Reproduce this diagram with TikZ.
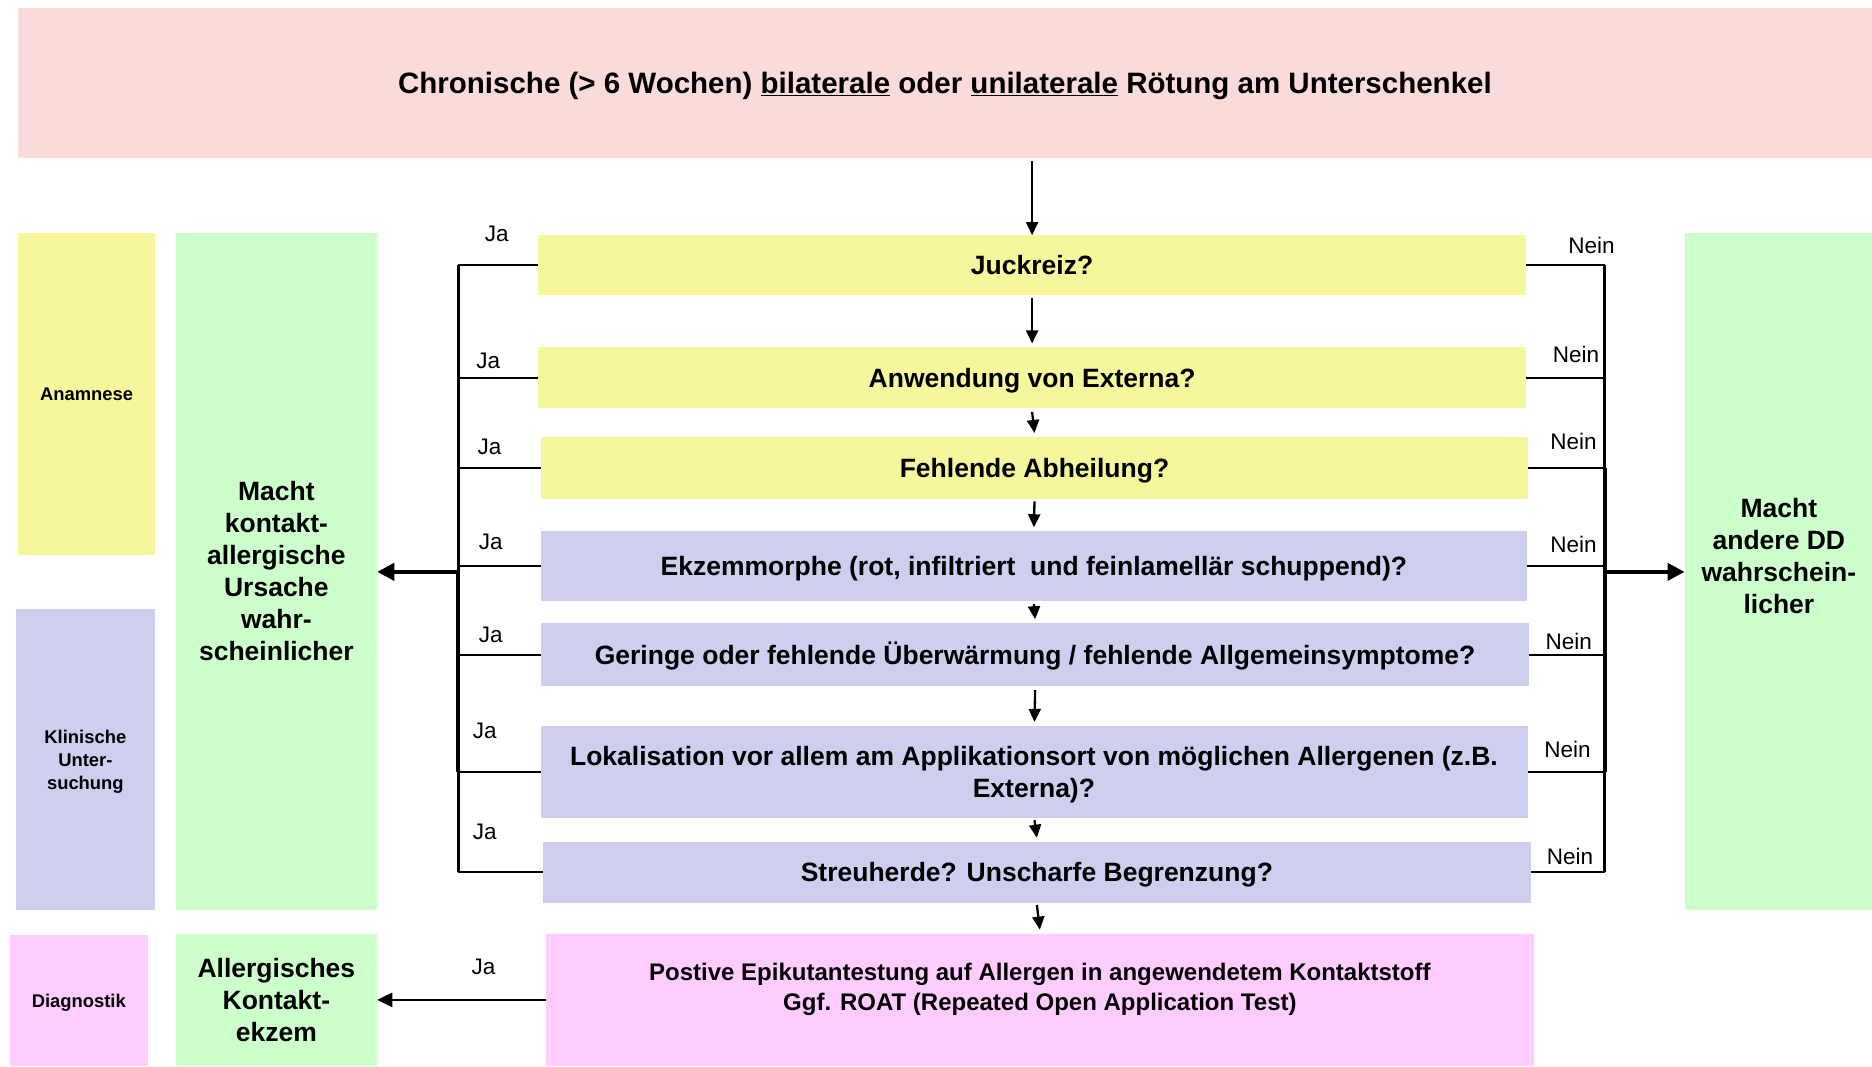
\documentclass[tikz,border=0pt]{standalone}
\usepackage{fontspec}
\setmainfont{Liberation Sans}
\usetikzlibrary{arrows.meta}
\definecolor{toppink}{HTML}{F9DBDA}
\definecolor{ylw}{HTML}{F6F69D}
\definecolor{lav}{HTML}{CECEEE}
\definecolor{grn}{HTML}{CCFFCC}
\definecolor{pnk}{HTML}{FFCCFF}
\newcommand\mkbox[7]{\node[#6, minimum width={(#4-#2)*1.1939pt}, minimum height={(#5-#3)*1.1939pt}] (#1) at ({(#2+#4)/2},{(#3+#5)/2}) {#7};}
\begin{document}
\begin{tikzpicture}[x=1.1939pt,y=-1.1939pt,
  bx/.style={inner sep=0pt, outer sep=0pt, align=center, font=\bfseries\fontsize{26.5}{32}\selectfont},
  one/.style={text height=19.3pt, text depth=0pt},
  smallbx/.style={inner sep=0pt, outer sep=0pt, align=center, font=\bfseries\fontsize{18.4}{22.7}\selectfont},
  lab/.style={inner sep=0pt, font=\fontsize{22.5}{27}\selectfont},
  conn/.style={line width=2.5pt},
  thickconn/.style={line width=4pt},
  arr/.style={line width=2.3pt, -{Triangle[length=13pt,width=12pt]}},
  bigarr/.style={line width=4pt, -{Triangle[length=17pt,width=17pt]}}]
\useasboundingbox (0,0) rectangle (1568,893);
% top
\mkbox{top}{15}{7}{1568}{132}{bx, fill=toppink, text height=21.5pt, text depth=0pt, font=\bfseries\fontsize{29.5}{35}\selectfont}{Chronische (> 6 Wochen) \underline{bilaterale} oder \underline{unilaterale} Rötung am Unterschenkel}
% side category columns
\mkbox{anam}{15}{195}{130}{465}{smallbx, fill=ylw}{Anamnese}
\mkbox{klin}{13}{510}{130}{762}{smallbx, fill=lav}{}
\node[smallbx] (klintxt) at (71.5,638) {Klinische\\Unter-\\suchung};
\mkbox{diagn}{8}{783}{124}{893}{smallbx, text height=13.4pt, text depth=0pt, fill=pnk}{Diagnostik}
% green result boxes
\mkbox{kl}{147}{195}{316}{762}{bx, fill=grn}{Macht\\kontakt-\\allergische\\Ursache\\wahr-\\scheinlicher}
\mkbox{ake}{147}{782}{316}{893}{bx, fill=grn}{Allergisches\\Kontakt-\\ekzem}
\mkbox{dd}{1411}{195}{1568}{762}{bx, fill=grn}{}
\node[bx] (ddtxt) at (1490,466) {Macht\\andere DD\\wahrschein-\\licher};
% question boxes
\mkbox{q1}{451}{197}{1278}{247}{bx, one, fill=ylw}{Juckreiz?}
\mkbox{q2}{451}{291}{1278}{342}{bx, one, fill=ylw}{Anwendung von Externa?}
\mkbox{q3}{453}{366}{1280}{418}{bx, one, fill=ylw}{Fehlende Abheilung?}
\mkbox{q4}{453}{445}{1279}{503}{bx, one, fill=lav}{Ekzemmorphe (rot, infiltriert\ \ und feinlamellär schuppend)?}
\mkbox{q5}{453}{522}{1281}{575}{bx, one, fill=lav}{Geringe oder fehlende Überwärmung / fehlende Allgemeinsymptome?}
\mkbox{q6}{453}{608}{1280}{685}{bx, fill=lav}{}
\node[bx] (q6txt) at (866,648.5) {Lokalisation vor allem am Applikationsort von möglichen Allergenen (z.B.\\Externa)?};
\mkbox{q7}{455}{705}{1282}{756}{bx, one, fill=lav}{Streuherde? Unscharfe Begrenzung?}
\mkbox{q8}{457}{782}{1285}{893}{bx, fill=pnk}{}
\node[bx, font=\bfseries\fontsize{24}{30}\selectfont] (q8txt) at (871,829) {Postive Epikutantestung auf Allergen in angewendetem Kontaktstoff\\Ggf. ROAT (Repeated Open Application Test)};
% down arrows
\draw[arr] (q1.north |- top.south) ++(0,3) -- (q1.north);
\draw[arr] (q1.south) ++(0,3) -- ([yshift=4pt]q2.north);
\draw[arr] (q2.south) ++(0,3) -- ([yshift=4pt]q3.north);
\draw[arr] (q3.south) ++(0,2) -- ([yshift=4pt]q4.north);
\draw[arr] (q4.south) ++(0,3) -- ([yshift=4pt]q5.north);
\draw[arr] (q5.south) ++(0,3) -- ([yshift=4pt]q6.north);
\draw[arr] (q6.south) ++(0,2) -- ([yshift=4pt]q7.north);
\draw[arr] (q7.south) ++(0,2) -- ([yshift=4pt]q8.north);
% left (Ja) and right (Nein) connectors
\coordinate (L) at (384,0);
\coordinate (R) at (1344,0);
\foreach \q in {q1,q2,q3,q4,q5,q6,q7}{
  \draw[conn] (\q.west) -- (\q.west -| L);
  \draw[conn] (\q.east) -- (\q.east -| R);
}
\draw[conn] (q1.west -| L) -- (q7.west -| L);
\draw[conn] (q1.east -| R) -- (q7.east -| R);
\coordinate (jl) at (384,479);
\coordinate (jr) at (1344,479);
\draw[thickconn] (jl) -- (q6.west -| L);
\draw[thickconn] (q3.east -| R) -- (q6.east -| R);
\draw[bigarr] (jl) -- (jl -| kl.east);
\draw[bigarr] (jr) -- (jr -| dd.west);
\draw[line width=2.6pt, -{Triangle[length=15pt,width=14pt]}] (q8.west) -- (q8.west -| ake.east);
% labels
\node[lab] (ja1) at (416,196) {Ja};
\node[lab] (ja2) at (409,302) {Ja};
\node[lab] (ja3) at (410,374) {Ja};
\node[lab] (ja4) at (411,454) {Ja};
\node[lab] (ja5) at (411,532) {Ja};
\node[lab] (ja6) at (406,612) {Ja};
\node[lab] (ja7) at (406,697) {Ja};
\node[lab] (ja8) at (405,810) {Ja};
\node[lab] (n1) at (1333,206) {Nein};
\node[lab] (n2) at (1320,297) {Nein};
\node[lab] (n3) at (1318,370) {Nein};
\node[lab] (n4) at (1318,456) {Nein};
\node[lab] (n5) at (1314,537) {Nein};
\node[lab] (n6) at (1313,628) {Nein};
\node[lab] (n7) at (1315,717) {Nein};
\end{tikzpicture}
\end{document}
